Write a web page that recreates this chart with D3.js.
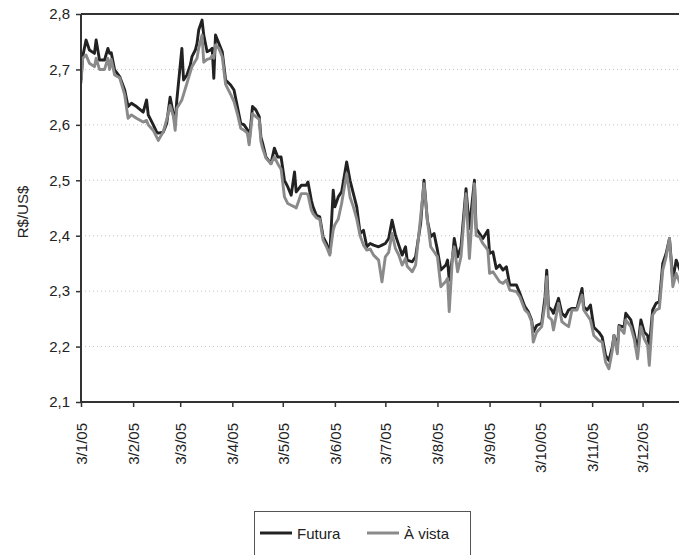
<!DOCTYPE html>
<html><head><meta charset="utf-8">
<script src="https://cdn.jsdelivr.net/npm/d3@7"></script>
<style>body{margin:0;background:#fff}svg{display:block}</style></head>
<body><svg id="c" width="679" height="555"></svg>
<script>
const dates = ["2005-01-03","2005-01-04","2005-01-06","2005-01-08","2005-01-11","2005-01-12","2005-01-14","2005-01-17","2005-01-19","2005-01-20",
"2005-01-21","2005-01-23","2005-01-26","2005-01-29","2005-01-31","2005-02-02","2005-02-05","2005-02-09","2005-02-11","2005-02-12",
"2005-02-15","2005-02-17","2005-02-18","2005-02-21","2005-02-23","2005-02-25","2005-02-27","2005-02-28","2005-03-01","2005-03-04",
"2005-03-05","2005-03-07","2005-03-09","2005-03-10","2005-03-12","2005-03-13","2005-03-14","2005-03-16","2005-03-17","2005-03-19",
"2005-03-21","2005-03-22","2005-03-23","2005-03-24","2005-03-26","2005-03-28","2005-03-30","2005-04-02","2005-04-04","2005-04-06",
"2005-04-08","2005-04-10","2005-04-12","2005-04-13","2005-04-15","2005-04-17","2005-04-19","2005-04-20","2005-04-21","2005-04-23",
"2005-04-26","2005-04-28","2005-04-30","2005-05-02","2005-05-04","2005-05-06","2005-05-08","2005-05-10","2005-05-11","2005-05-14",
"2005-05-17","2005-05-18","2005-05-20","2005-05-21","2005-05-23","2005-05-25","2005-05-27","2005-05-29","2005-05-31","2005-06-02",
"2005-06-03","2005-06-05","2005-06-07","2005-06-10","2005-06-12","2005-06-14","2005-06-16","2005-06-18","2005-06-20","2005-06-22",
"2005-06-24","2005-06-26","2005-06-29","2005-07-01","2005-07-03","2005-07-05","2005-07-07","2005-07-09","2005-07-11","2005-07-13",
"2005-07-15","2005-07-16","2005-07-19","2005-07-21","2005-07-24","2005-07-26","2005-07-28","2005-07-30","2005-08-01","2005-08-03",
"2005-08-05","2005-08-08","2005-08-09","2005-08-10","2005-08-12","2005-08-13","2005-08-15","2005-08-17","2005-08-20","2005-08-22",
"2005-08-25","2005-08-26","2005-08-28","2005-08-30","2005-09-02","2005-09-03","2005-09-05","2005-09-07","2005-09-09","2005-09-11",
"2005-09-13","2005-09-15","2005-09-19","2005-09-21","2005-09-24","2005-09-26","2005-09-28","2005-09-29","2005-10-01","2005-10-04",
"2005-10-06","2005-10-07","2005-10-08","2005-10-10","2005-10-11","2005-10-14","2005-10-16","2005-10-18","2005-10-20","2005-10-22",
"2005-10-25","2005-10-28","2005-10-29","2005-10-31","2005-11-02","2005-11-04","2005-11-07","2005-11-09","2005-11-11","2005-11-13",
"2005-11-15","2005-11-16","2005-11-18","2005-11-19","2005-11-22","2005-11-23","2005-11-26","2005-11-28","2005-11-30","2005-12-02",
"2005-12-04","2005-12-06","2005-12-07","2005-12-09","2005-12-11","2005-12-13","2005-12-15","2005-12-17","2005-12-19","2005-12-21",
"2005-12-23","2005-12-26"];

const futura = [2.681,2.723,2.753,2.735,2.729,2.753,2.717,2.717,2.738,2.729,
2.730,2.699,2.687,2.663,2.633,2.639,2.633,2.623,2.645,2.618,
2.600,2.587,2.585,2.587,2.603,2.650,2.618,2.603,2.645,2.738,
2.681,2.690,2.708,2.723,2.735,2.747,2.771,2.789,2.762,2.732,
2.735,2.738,2.684,2.762,2.747,2.732,2.681,2.672,2.663,2.633,
2.603,2.600,2.591,2.569,2.633,2.627,2.615,2.578,2.567,2.542,
2.530,2.558,2.542,2.542,2.500,2.488,2.473,2.515,2.479,2.491,
2.491,2.497,2.464,2.452,2.437,2.434,2.398,2.386,2.368,2.482,
2.452,2.470,2.479,2.533,2.500,2.476,2.452,2.404,2.410,2.380,
2.386,2.383,2.380,2.383,2.386,2.395,2.428,2.401,2.383,2.365,
2.380,2.356,2.353,2.362,2.422,2.500,2.428,2.398,2.404,2.374,
2.338,2.347,2.356,2.320,2.362,2.395,2.362,2.380,2.485,2.413,
2.500,2.413,2.404,2.395,2.410,2.368,2.371,2.341,2.347,2.338,
2.344,2.311,2.311,2.296,2.272,2.263,2.248,2.226,2.238,2.242,
2.290,2.338,2.272,2.266,2.260,2.287,2.260,2.254,2.266,2.269,
2.269,2.305,2.272,2.266,2.275,2.235,2.226,2.217,2.184,2.175,
2.199,2.220,2.199,2.238,2.235,2.260,2.248,2.224,2.193,2.248,
2.226,2.220,2.199,2.266,2.278,2.281,2.350,2.368,2.395,2.320,
2.356,2.332];

const aVista = [2.675,2.720,2.726,2.711,2.705,2.720,2.700,2.700,2.720,2.700,
2.718,2.690,2.685,2.654,2.612,2.618,2.612,2.605,2.608,2.600,
2.590,2.578,2.572,2.588,2.610,2.635,2.615,2.590,2.630,2.645,
2.655,2.675,2.695,2.705,2.715,2.720,2.738,2.762,2.713,2.718,
2.720,2.725,2.720,2.744,2.738,2.723,2.673,2.655,2.642,2.620,
2.594,2.590,2.585,2.564,2.620,2.615,2.610,2.570,2.558,2.540,
2.530,2.542,2.530,2.520,2.470,2.458,2.455,2.452,2.450,2.476,
2.476,2.474,2.446,2.440,2.432,2.430,2.392,2.380,2.365,2.410,
2.420,2.430,2.458,2.512,2.470,2.452,2.430,2.400,2.383,2.374,
2.376,2.365,2.356,2.317,2.362,2.370,2.404,2.377,2.365,2.347,
2.359,2.345,2.335,2.347,2.434,2.494,2.428,2.380,2.371,2.362,
2.308,2.318,2.323,2.263,2.365,2.380,2.335,2.362,2.476,2.359,
2.494,2.400,2.398,2.386,2.374,2.332,2.335,2.326,2.317,2.314,
2.320,2.302,2.299,2.290,2.266,2.260,2.245,2.208,2.226,2.236,
2.278,2.326,2.254,2.248,2.230,2.278,2.245,2.240,2.236,2.266,
2.266,2.293,2.266,2.257,2.248,2.220,2.211,2.208,2.172,2.160,
2.193,2.220,2.187,2.236,2.224,2.248,2.236,2.214,2.178,2.236,
2.214,2.202,2.166,2.257,2.266,2.269,2.338,2.362,2.395,2.308,
2.332,2.308];

const yTicks = [2.1,2.2,2.3,2.4,2.5,2.6,2.7,2.8];
const xTickDates = ["2005-01-03","2005-02-03","2005-03-03","2005-04-03","2005-05-03","2005-06-03",
"2005-07-03","2005-08-03","2005-09-03","2005-10-03","2005-11-03","2005-12-03"];
const seriesNames = ["Futura","À vista"];
const axisTitle = "R$/US$";

const parse = d3.timeParse("%Y-%m-%d");
const FONT = "Liberation Sans, Arial, sans-serif";
const svg = d3.select("#c");
const L = 81, T = 14, B = 402;

const x = d3.scaleTime().domain([parse("2005-01-03"), parse("2006-01-03")]).range([L, 694.7]);
const y = d3.scaleLinear().domain([2.1, 2.8]).range([B, T]);

// gridlines
svg.append("g").selectAll("line").data(yTicks.filter(v => v > 2.1 && v < 2.8)).join("line")
  .attr("x1", L).attr("x2", 690).attr("y1", d => y(d)).attr("y2", d => y(d))
  .attr("stroke", "#c4c4c4").attr("stroke-width", 1).attr("stroke-dasharray", "1,3");

// top border
svg.append("line").attr("x1", L).attr("x2", 700).attr("y1", T).attr("y2", T)
  .attr("stroke", "#333").attr("stroke-width", 2);

// lines
svg.append("defs").append("clipPath").attr("id", "clip")
  .append("rect").attr("x", L).attr("y", T - 5).attr("width", 700).attr("height", B - T + 10);
const series = [
  {name: seriesNames[0], values: futura, color: "#222"},
  {name: seriesNames[1], values: aVista, color: "#8a8a8a"}
];
const line = d3.line().x((d, i) => x(parse(dates[i]))).y(d => y(d));
svg.append("g").attr("clip-path", "url(#clip)").selectAll("path").data(series).join("path")
  .attr("d", s => line(s.values)).attr("fill", "none")
  .attr("stroke", s => s.color).attr("stroke-width", 2.9).attr("stroke-linejoin", "round");

// y axis
const fmtY = d => d3.format(".1f")(d).replace(".", ",");
const gy = svg.append("g").attr("transform", `translate(${L},0)`)
  .call(d3.axisLeft(y).tickValues(yTicks).tickSize(5).tickPadding(6).tickFormat(fmtY));
gy.select(".domain").attr("stroke", "#333").attr("stroke-width", 2).attr("d", `M0,${B}V${T}`);
gy.selectAll(".tick line").attr("stroke", "#333").attr("stroke-width", 1.5);
gy.selectAll("text").attr("font-family", FONT).attr("font-size", 15).attr("fill", "#222");

// x axis
const gx = svg.append("g").attr("transform", `translate(0,${B})`)
  .call(d3.axisBottom(x).tickValues(xTickDates.map(parse)).tickSize(5).tickFormat(d3.timeFormat("%-d/%-m/%y")));
gx.select(".domain").attr("stroke", "#333").attr("stroke-width", 2).attr("d", `M${L},0H700`);
gx.selectAll(".tick line").attr("stroke", "#333").attr("stroke-width", 1.5);
gx.selectAll("text").attr("font-family", FONT).attr("font-size", 15).attr("fill", "#222")
  .attr("transform", "rotate(-90)").attr("text-anchor", "end")
  .attr("x", -21).attr("y", 0).attr("dy", "0.35em");

// y title
svg.append("text").attr("transform", "translate(28,212) rotate(-90)")
  .attr("text-anchor", "middle").attr("font-family", FONT).attr("font-size", 15).attr("fill", "#222")
  .text(axisTitle);

// legend
const lg = svg.append("g");
lg.append("rect").attr("x", 254.5).attr("y", 511.5).attr("width", 216).attr("height", 70)
  .attr("fill", "#fff").attr("stroke", "#555").attr("stroke-width", 1);
const lx = [260, 367];
series.forEach((s, i) => {
  lg.append("line").attr("x1", lx[i]).attr("x2", lx[i] + 32).attr("y1", 533).attr("y2", 533)
    .attr("stroke", s.color).attr("stroke-width", 3);
  lg.append("text").attr("x", lx[i] + 37).attr("y", 539).attr("font-family", FONT)
    .attr("font-size", 15).attr("fill", "#222").text(s.name);
});
</script></body></html>
